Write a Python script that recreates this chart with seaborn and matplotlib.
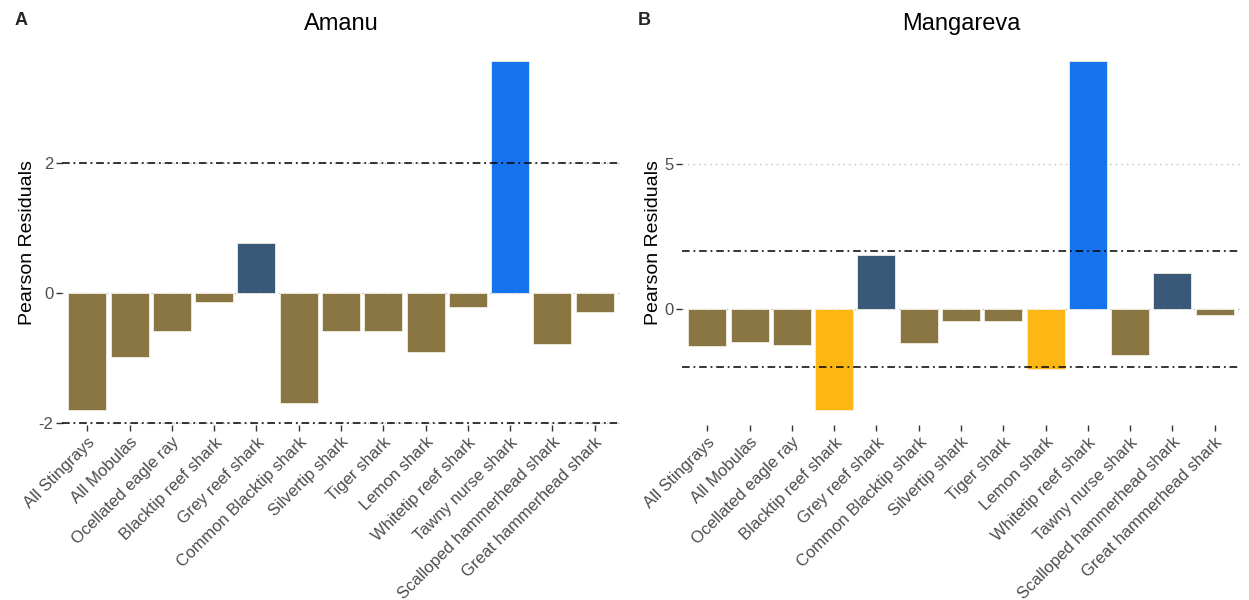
import numpy as np
import pandas as pd
import matplotlib
matplotlib.use("Agg")
import matplotlib.pyplot as plt
import seaborn as sns

species = ["All Stingrays", "All Mobulas", "Ocellated eagle ray", "Blacktip reef shark",
           "Grey reef shark", "Common Blacktip shark", "Silvertip shark", "Tiger shark",
           "Lemon shark", "Whitetip reef shark", "Tawny nurse shark",
           "Scalloped hammerhead shark", "Great hammerhead shark"]
amanu_resid = [-1.80, -0.98, -0.58, -0.14, 0.77, -1.69, -0.58, -0.58, -0.91, -0.22, 3.57, -0.78, -0.29]
mangareva_resid = [-1.28, -1.14, -1.24, -3.48, 1.86, -1.17, -0.41, -0.41, -2.07, 8.55, -1.59, 1.24, -0.21]
panel_titles = ["Amanu", "Mangareva"]
panel_tags = ["A", "B"]
amanu_yticks = [-2, 0, 2]
mangareva_yticks = [0, 5]

palette = {"high": "#1673EE", "pos": "#3A5877", "neg": "#8A7643", "low": "#FDB714"}

def classify(v):
    if v > 2:
        return "high"
    if v > 0:
        return "pos"
    if v < -2:
        return "low"
    return "neg"

sns.set_theme(style="white")
plt.rcParams['font.family'] = ['Liberation Sans', 'DejaVu Sans']

fig = plt.figure(figsize=(12.49, 6.0), dpi=100)
ax1 = fig.add_axes([0.0496, 0.2917, 0.4468, 0.6066])
ax2 = fig.add_axes([0.5460, 0.2917, 0.4468, 0.6066])

panels = [(ax1, amanu_resid, amanu_yticks, (-2.03, 3.57)),
          (ax2, mangareva_resid, mangareva_yticks, (-4.0, 8.55))]

for i, (ax, vals, yt, ylim) in enumerate(panels):
    df = pd.DataFrame({"species": species, "resid": vals,
                       "cls": [classify(v) for v in vals]})
    for y in yt:
        ax.axhline(y, color="#BFBFBF", lw=1.0, ls=(0, (1, 3)), zorder=0)
    sns.barplot(data=df, x="species", y="resid", hue="cls", palette=palette,
                order=species, dodge=False, width=0.9, legend=False, saturation=1,
                edgecolor="#F2EEE0", linewidth=0.6, ax=ax, zorder=2)
    for y in (-2, 2):
        ax.axhline(y, color="black", lw=1.1, ls=(0, (5, 2.5, 1.2, 2.5)), zorder=3)
    ax.set_xlim(-0.6, len(species) - 0.4)
    ax.set_ylim(*ylim)
    ax.set_yticks(yt)
    ax.set_yticklabels([str(t) for t in yt])
    ax.set_xlabel("")
    ax.set_ylabel("Pearson Residuals", fontsize=14, color="black", labelpad=2)
    ax.set_title(panel_titles[i], fontsize=17, pad=22, color="black")
    ax.set_xticks(range(len(species)))
    ax.set_xticklabels(species, rotation=45, ha="right", rotation_mode="anchor",
                       fontsize=12, color="#4D4D4D")
    ax.tick_params(axis="y", labelsize=12, labelcolor="#4D4D4D", length=4,
                   width=1, color="#333333", left=True, pad=2)
    ax.tick_params(axis="x", length=4, width=1, color="#333333", bottom=True, pad=3)
    for s in ax.spines.values():
        s.set_visible(False)
    ax.grid(False)

fig.text(0.012, 0.966, "A", fontsize=13, fontweight="bold", va="center")
fig.text(0.511, 0.966, "B", fontsize=13, fontweight="bold", va="center")

fig.savefig("out.png", dpi=100, facecolor="white")
